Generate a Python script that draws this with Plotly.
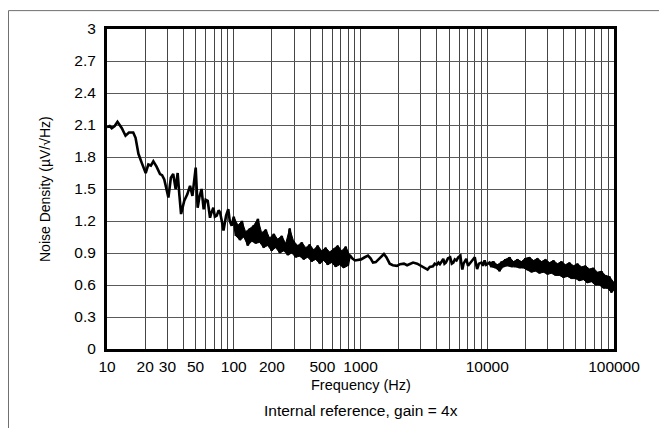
import plotly.graph_objects as go

# ---------------- data ----------------
# 10 Hz - 100 Hz (low-frequency 1/f region)
freq_low = [10, 10.5, 10.9, 11.5, 12.1, 12.6, 13.1, 13.6, 14.0, 14.9, 16.1, 16.8, 17.7, 18.8, 19.5,
            20.2, 21.2, 22.2, 23.2, 24.6, 26.2, 27.2, 28.3, 29.5, 30.5, 31.9, 33.3, 34.8, 36.1,
            37.2, 38.4, 40.7, 43, 45.2, 47.2, 50.1, 51.9, 53.5, 55.7, 57.9, 60, 62.3, 65, 66.1,
            69.0, 71, 73.4, 76, 78, 80.5, 83, 87, 90.5, 93, 96.3]
noise_low = [2.08, 2.09, 2.07, 2.09, 2.13, 2.10, 2.07, 2.03, 2.00, 2.03, 2.03, 1.98, 1.83, 1.745, 1.70,
             1.65, 1.73, 1.72, 1.76, 1.71, 1.64, 1.63, 1.59, 1.50, 1.42, 1.605, 1.64, 1.50, 1.65,
             1.45, 1.265, 1.39, 1.45, 1.53, 1.435, 1.70, 1.325, 1.42, 1.50, 1.31, 1.40, 1.39, 1.23, 1.265,
             1.325, 1.24, 1.25, 1.30, 1.28, 1.20, 1.11, 1.25, 1.31, 1.20, 1.155]

# 100 Hz - 820 Hz (dense noisy band; samples alternate between peaks and troughs)
freq_mid = [100, 104, 108, 112, 116, 120, 124, 129, 134, 139, 144, 149, 155, 160, 166, 172, 179, 185,
            192, 199, 207, 214, 222, 231, 239, 248, 257, 267, 276, 287, 297, 308, 320, 331, 344, 356,
            370, 383, 397, 412, 427, 443, 460, 477, 494, 512, 531, 551, 571, 593, 615, 637, 661, 685,
            711, 737, 764, 793, 822]
noise_mid = [1.24, 1.06, 1.16, 1.02, 1.20, 1.05, 1.10, 0.97, 1.13, 1.01, 1.16, 0.99, 1.22, 1.00, 1.09,
             0.95, 1.12, 0.97, 1.04, 0.92, 1.08, 0.95, 1.03, 0.90, 1.06, 0.92, 0.99, 0.88, 1.13, 0.90,
             1.01, 0.86, 0.97, 0.87, 1.00, 0.84, 0.95, 0.86, 0.98, 0.82, 0.93, 0.84, 0.97, 0.80, 0.92,
             0.83, 0.95, 0.79, 0.91, 0.81, 0.94, 0.77, 0.97, 0.79, 0.92, 0.76, 0.96, 0.78, 0.88]

# 860 Hz - 10 kHz (smoother region)
freq_high = [860, 905, 960, 1010, 1080, 1146, 1200, 1256, 1320, 1375, 1450, 1530, 1600, 1700, 1800,
             1940, 2050, 2200, 2330, 2450, 2600, 2800, 3080, 3250, 3380, 3520, 3730, 3850, 3990, 4120,
             4230, 4370, 4500, 4600, 4710, 4900, 5100, 5250, 5400, 5550, 5720, 5900, 6140, 6250, 6360,
             6500, 6830, 7050, 7290, 7600, 7970, 8150, 8320, 8600, 8990, 9250, 9530, 9800, 10140]
noise_high = [0.85, 0.83, 0.835, 0.84, 0.86, 0.875, 0.85, 0.81, 0.815, 0.835, 0.87, 0.89, 0.86, 0.80, 0.785,
              0.78, 0.795, 0.80, 0.785, 0.795, 0.81, 0.80, 0.77, 0.75, 0.745, 0.77, 0.775, 0.80, 0.79, 0.81,
              0.795, 0.82, 0.845, 0.80, 0.81, 0.85, 0.86, 0.80, 0.81, 0.84, 0.83, 0.86, 0.875, 0.80, 0.745,
              0.80, 0.845, 0.78, 0.80, 0.83, 0.86, 0.80, 0.75, 0.80, 0.81, 0.78, 0.83, 0.79, 0.80]

# 10.4 kHz - 100 kHz (dense noisy band, rolling off; alternating peaks/troughs)
freq_top = [10400, 10800, 11200, 11600, 12000, 12500, 13000, 13400, 13900, 14400, 15000, 15500, 16100,
            16700, 17300, 18000, 18600, 19300, 20000, 20800, 21500, 22300, 23200, 24000, 24900, 25800,
            26800, 27800, 28800, 29900, 31000, 32100, 33300, 34500, 35800, 37100, 38500, 39900, 41400,
            42900, 44500, 46200, 47900, 49600, 51500, 53400, 55400, 57400, 59500, 61700, 64000, 66400,
            68800, 71400, 74000, 76700, 79600, 82500, 85600, 88700, 92000, 95400, 99000, 100000]
noise_top = [0.81, 0.77, 0.82, 0.76, 0.79, 0.73, 0.82, 0.77, 0.84, 0.78, 0.86, 0.77, 0.82,
             0.77, 0.84, 0.76, 0.82, 0.76, 0.85, 0.74, 0.86, 0.72, 0.83, 0.73, 0.85, 0.71,
             0.82, 0.72, 0.84, 0.70, 0.81, 0.71, 0.83, 0.69, 0.80, 0.69, 0.82, 0.67, 0.79,
             0.68, 0.81, 0.66, 0.78, 0.66, 0.80, 0.64, 0.77, 0.65, 0.78, 0.62, 0.75, 0.63,
             0.76, 0.60, 0.72, 0.60, 0.73, 0.57, 0.69, 0.57, 0.68, 0.53, 0.63, 0.55]

x_tick_labels = {10: "10", 20: "20", 30: "30", 50: "50", 100: "100", 200: "200", 500: "500",
                 1000: "1000", 10000: "10000", 100000: "100000"}
y_ticks = [0, 0.3, 0.6, 0.9, 1.2, 1.5, 1.8, 2.1, 2.4, 2.7, 3]
y_tick_labels = ["0", "0.3", "0.6", "0.9", "1.2", "1.5", "1.8", "2.1", "2.4", "2.7", "3"]

freq = freq_low + freq_mid + freq_high + freq_top
noise = noise_low + noise_mid + noise_high + noise_top

# gridline positions (1..9 per decade)
grid_vals = []
for dec in [10, 100, 1000, 10000]:
    for m in range(1, 10):
        grid_vals.append(m * dec)
grid_vals.append(100000)
grid_text = [x_tick_labels.get(v, "") for v in grid_vals]

FONT = "Liberation Sans, Arial, sans-serif"

fig = go.Figure()
# solid fill of the dense noise bands (between trough samples and peak samples)
for fx, fy in [(freq_mid, noise_mid), (freq_top, noise_top)]:
    fig.add_trace(go.Scatter(x=fx[1::2], y=fy[1::2], mode="lines",
                             line=dict(color="black", width=1), showlegend=False, hoverinfo="skip"))
    fig.add_trace(go.Scatter(x=fx[0::2], y=fy[0::2], mode="lines", fill="tonexty",
                             fillcolor="black", line=dict(color="black", width=1),
                             showlegend=False, hoverinfo="skip"))
fig.add_trace(go.Scatter(x=freq, y=noise, mode="lines",
                         line=dict(color="black", width=2.6), showlegend=False))

W, H = 659, 420           # page adds an 8px body margin
L, T = 99, 19
PW, PH = 507, 322
fig.update_layout(
    width=W, height=H,
    margin=dict(l=L, r=W - L - PW, t=T, b=H - T - PH),
    paper_bgcolor="white", plot_bgcolor="white",
    font=dict(family=FONT, size=15, color="black"),
)
fig.update_xaxes(type="log", range=[1, 5], tickvals=grid_vals, ticktext=grid_text,
                 showgrid=True, gridcolor="#454545", gridwidth=1,
                 showline=True, linecolor="black", linewidth=3, mirror=True,
                 ticks="", tickfont=dict(size=15.5, family=FONT), zeroline=False,
                 ticklabelstandoff=1)
fig.update_yaxes(range=[0, 3], tickvals=y_ticks, ticktext=y_tick_labels,
                 showgrid=True, gridcolor="#5a5a5a", gridwidth=1,
                 showline=True, linecolor="black", linewidth=3, mirror=True,
                 ticks="", tickfont=dict(size=15.5, family=FONT), zeroline=False,
                 ticklabelstandoff=5)

# outer frame (only left and top edges visible in the reference)
fig.add_shape(type="rect", xref="paper", yref="paper",
              x0=(0.5 - L) / PW, x1=1.4, y0=-0.6, y1=(PH + T - 0.5) / PH,
              line=dict(color="#707070", width=1), layer="below")

# text positions measured from plot-area top-left (reference: plot area at x=107, y=27)
fig.add_annotation(text="Frequency (Hz)", xref="paper", yref="paper", x=0.5, y=(349 - 385) / PH,
                   showarrow=False, font=dict(size=14.5, family=FONT), yanchor="middle")
fig.add_annotation(text="Noise Density (µV/√Hz)", xref="paper", yref="paper",
                   x=(45 - 107) / PW, y=0.5, textangle=-90, showarrow=False,
                   font=dict(size=14, family=FONT), xanchor="center", yanchor="middle")
fig.add_annotation(text="Internal reference, gain = 4x", xref="paper", yref="paper",
                   x=0.5, y=(349 - 411) / PH, showarrow=False,
                   font=dict(size=15.5, family=FONT), yanchor="middle")

fig.write_html("out.html")
